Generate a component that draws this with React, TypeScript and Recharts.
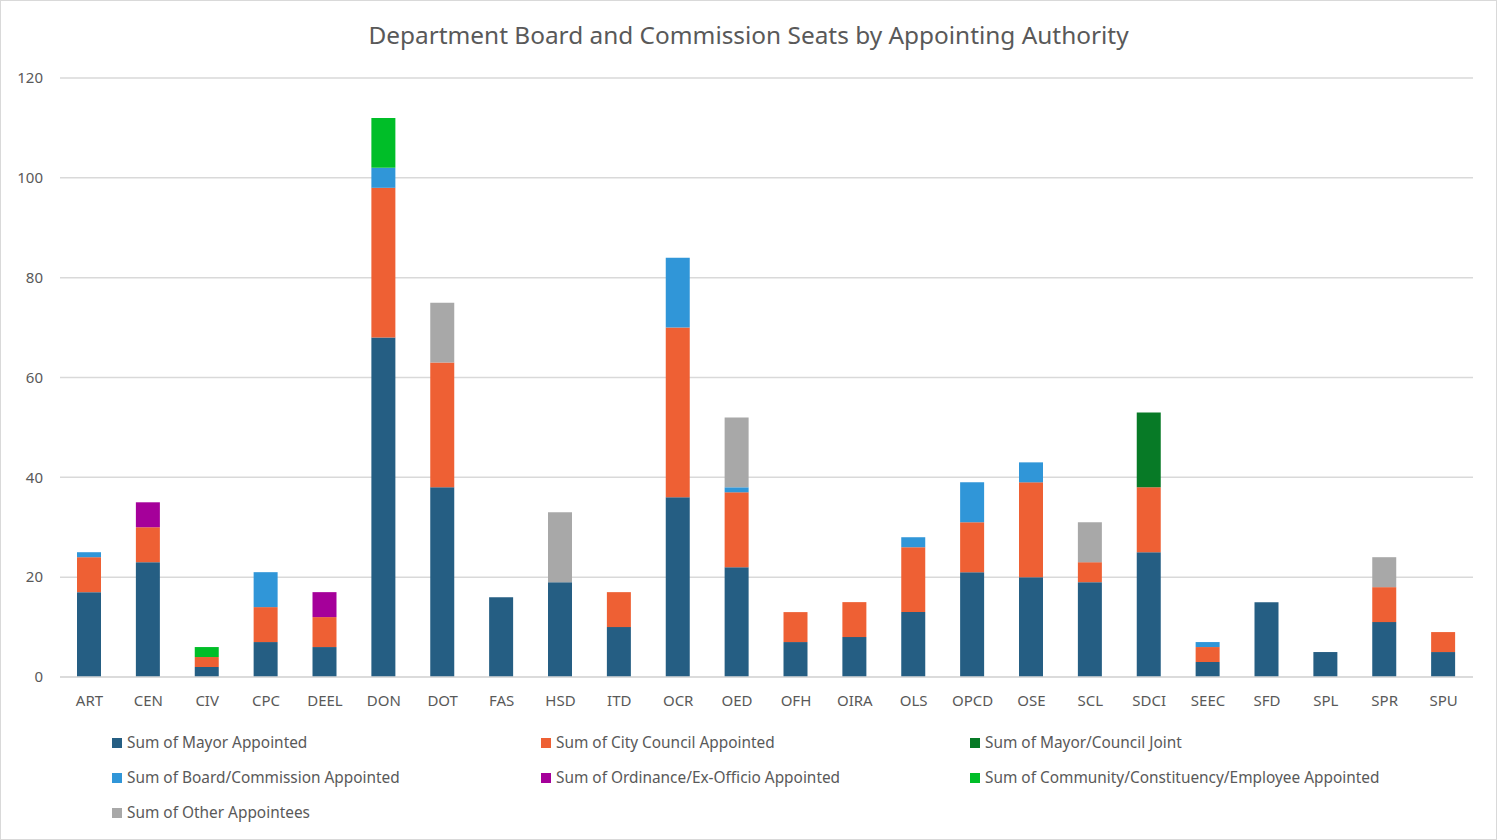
import { BarChart, Bar, XAxis, YAxis, CartesianGrid } from 'recharts';

const departments = [
  'ART', 'CEN', 'CIV', 'CPC', 'DEEL', 'DON', 'DOT', 'FAS', 'HSD', 'ITD', 'OCR', 'OED',
  'OFH', 'OIRA', 'OLS', 'OPCD', 'OSE', 'SCL', 'SDCI', 'SEEC', 'SFD', 'SPL', 'SPR', 'SPU',
];

const mayor = [17, 23, 2, 7, 6, 68, 38, 16, 19, 10, 36, 22, 7, 8, 13, 21, 20, 19, 25, 3, 15, 5, 11, 5];
const council = [7, 7, 2, 7, 6, 30, 25, 0, 0, 7, 34, 15, 6, 7, 13, 10, 19, 4, 13, 3, 0, 0, 7, 4];
const joint = [0, 0, 0, 0, 0, 0, 0, 0, 0, 0, 0, 0, 0, 0, 0, 0, 0, 0, 15, 0, 0, 0, 0, 0];
const board = [1, 0, 0, 7, 0, 4, 0, 0, 0, 0, 14, 1, 0, 0, 2, 8, 4, 0, 0, 1, 0, 0, 0, 0];
const ordinance = [0, 5, 0, 0, 5, 0, 0, 0, 0, 0, 0, 0, 0, 0, 0, 0, 0, 0, 0, 0, 0, 0, 0, 0];
const community = [0, 0, 2, 0, 0, 10, 0, 0, 0, 0, 0, 0, 0, 0, 0, 0, 0, 0, 0, 0, 0, 0, 0, 0];
const other = [0, 0, 0, 0, 0, 0, 12, 0, 14, 0, 0, 14, 0, 0, 0, 0, 0, 8, 0, 0, 0, 0, 6, 0];

const yTicks = [0, 20, 40, 60, 80, 100, 120];

// stacking order, bottom to top
const series = [
  { key: 'mayor', name: 'Sum of Mayor Appointed', color: '#255E83', values: mayor },
  { key: 'council', name: 'Sum of City Council Appointed', color: '#EE6034', values: council },
  { key: 'joint', name: 'Sum of Mayor/Council Joint', color: '#077A26', values: joint },
  { key: 'board', name: 'Sum of Board/Commission Appointed', color: '#3096D8', values: board },
  { key: 'ordinance', name: 'Sum of Ordinance/Ex-Officio Appointed', color: '#A5009A', values: ordinance },
  { key: 'community', name: 'Sum of Community/Constituency/Employee Appointed', color: '#00BE28', values: community },
  { key: 'other', name: 'Sum of Other Appointees', color: '#A8A8A8', values: other },
];

const chartData = departments.map((dept, i) => {
  const row: Record<string, string | number> = { dept };
  series.forEach((s) => {
    row[s.key] = s.values[i];
  });
  return row;
});

const FONT = '"Noto Sans", "Open Sans", sans-serif';
const TEXT = '#595959';

const App = () => {
  return (
    <div
      style={{
        position: 'absolute',
        left: 0,
        top: 0,
        width: 1497,
        height: 840,
        boxSizing: 'border-box',
        border: '1px solid #D9D9D9',
        background: '#fff',
        fontFamily: FONT,
      }}
    >
      <div
        style={{
          position: 'absolute',
          top: 17,
          left: 0,
          width: '100%',
          textAlign: 'center',
          fontSize: 24.4,
          color: TEXT,
        }}
      >
        Department Board and Commission Seats by Appointing Authority
      </div>
      <BarChart
        width={1495}
        height={838}
        data={chartData}
        margin={{ top: 77, right: 23, left: -1, bottom: 132 }}
        barSize={24}
      >
        <CartesianGrid vertical={false} stroke="#D9D9D9" strokeWidth={1.5} />
        <XAxis
          dataKey="dept"
          height={30}
          axisLine={{ stroke: '#D9D9D9', strokeWidth: 1.5 }}
          tickLine={false}
          tickMargin={12}
          interval={0}
          tick={{ fill: TEXT, fontSize: 15, fontFamily: FONT }}
        />
        <YAxis
          width={60}
          domain={[0, 120]}
          ticks={yTicks}
          axisLine={false}
          tickLine={false}
          tickMargin={11}
          tick={{ fill: TEXT, fontSize: 15, fontFamily: FONT }}
        />
        {series.map((s) => (
          <Bar
            key={s.key}
            dataKey={s.key}
            name={s.name}
            stackId="seats"
            fill={s.color}
            isAnimationActive={false}
          />
        ))}
      </BarChart>
      <div
        style={{
          position: 'absolute',
          left: 111,
          top: 731,
          display: 'grid',
          gridTemplateColumns: '429px 429px 500px',
          rowGap: 14,
          fontSize: 15.4,
          color: TEXT,
        }}
      >
        {series.map((s) => (
          <div key={s.key} style={{ display: 'flex', alignItems: 'center', height: 21 }}>
            <span
              style={{
                display: 'inline-block',
                width: 10,
                height: 10,
                background: s.color,
                marginRight: 5,
              }}
            />
            {s.name}
          </div>
        ))}
      </div>
    </div>
  );
};

export default App;
